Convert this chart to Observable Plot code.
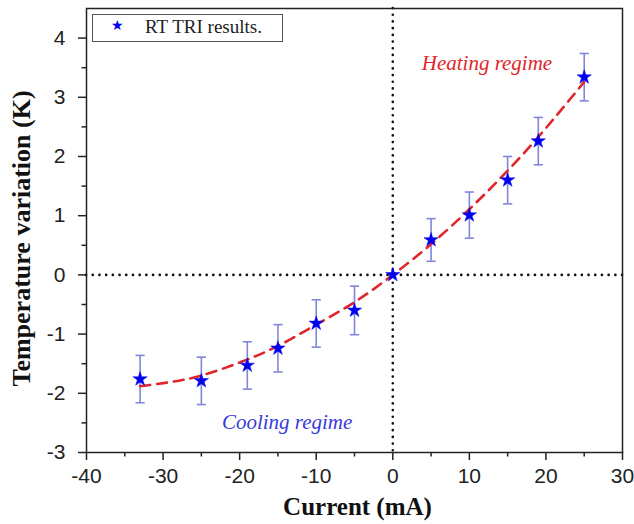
<!DOCTYPE html>
<html>
<head>
<meta charset="utf-8">
<script src="https://cdn.jsdelivr.net/npm/d3@7"></script>
<script src="https://cdn.jsdelivr.net/npm/@observablehq/plot@0.6"></script>
<style>
  html, body { margin: 0; padding: 0; background: #fff; }
  #wrap { position: relative; width: 634px; height: 524px; }
  #wrap svg { font-family: "Liberation Sans", Arial, sans-serif; }
  g[aria-label="x-axis tick label"] text, g[aria-label="y-axis tick label"] text {
    font-size: 21px; fill: #222;
  }
  #legend {
    position: absolute; left: 92px; top: 14px; width: 191px; height: 28px;
    border: 1.5px solid #555; background: #fff; box-sizing: border-box;
    font-family: "Liberation Serif", "Times New Roman", serif; font-size: 19px; color: #222;
  }
  #legend .star { position: absolute; left: 18px; top: 2px; color: #0000ee; font-size: 14px; font-family: "DejaVu Sans", sans-serif; }
  #legend .lbl { position: absolute; left: 52px; top: 1px; }
</style>
</head>
<body>
<div id="wrap"></div>
<script>
// Measured points (current in mA, temperature variation in K, error in K)
const currents = [-33, -25, -19, -15, -10, -5, 0, 5, 10, 15, 19, 25];
const tempVar  = [-1.76, -1.79, -1.53, -1.24, -0.82, -0.60, 0, 0.59, 1.01, 1.60, 2.26, 3.34];
const tempErr  = [0.40, 0.40, 0.40, 0.40, 0.40, 0.41, 0, 0.36, 0.39, 0.40, 0.40, 0.40];

// Fitted curve
const fitX = [-33, -29, -25, -20, -15, -10, -5, 0, 5, 10, 15, 20, 25];
const fitY = [-1.88, -1.81, -1.70, -1.48, -1.20, -0.84, -0.46, 0, 0.52, 1.11, 1.76, 2.48, 3.26];

// Ticks
const xTicks = [-40, -30, -20, -10, 0, 10, 20, 30];
const xMinor = [-35, -25, -15, -5, 5, 15, 25];
const yTicks = [-3, -2, -1, 0, 1, 2, 3, 4];
const yMinor = [-2.5, -1.5, -0.5, 0.5, 1.5, 2.5, 3.5];

// Titles
const xLabel = "Current (mA)";
const yLabel = "Temperature variation (K)";

// Annotations
const noteText = ["Heating regime", "Cooling regime"];
const noteX = [12.3, -13.8];
const noteY = [3.57, -2.49];
const noteColor = ["#e0262b", "#3a3ad8"];

const pts = currents.map((x, i) => ({x, y: tempVar[i], e: tempErr[i]}));
const bars = pts.filter(d => d.e > 0);
const fit = fitX.map((x, i) => ({x, y: fitY[i]}));
const notes = noteText.map((t, i) => ({t, x: noteX[i], y: noteY[i], c: noteColor[i]}));

const hline = { draw(ctx, size) { const w = Math.sqrt(size) * 0.37; ctx.moveTo(-w, 0); ctx.lineTo(w, 0); } };
const serif = "Liberation Serif, Times New Roman, serif";
const barColor = "#8286d8";

const chart = Plot.plot({
  width: 634,
  height: 524,
  marginLeft: 86,
  marginRight: 12,
  marginTop: 8,
  marginBottom: 72,
  x: { domain: [-40, 30] },
  y: { domain: [-3, 4.5] },
  marks: [
    Plot.ruleX([0], { stroke: "#111", strokeWidth: 2.6, strokeDasharray: "0.1,6.6", strokeLinecap: "round" }),
    Plot.ruleY([0], { stroke: "#111", strokeWidth: 2.6, strokeDasharray: "0.1,6.6", strokeLinecap: "round" }),
    Plot.ruleX(bars, { x: "x", y1: d => d.y - d.e, y2: d => d.y + d.e, stroke: barColor, strokeWidth: 1.6 }),
    Plot.dot(bars, { x: "x", y: d => d.y + d.e, symbol: hline, r: 7, stroke: barColor, strokeWidth: 1.6 }),
    Plot.dot(bars, { x: "x", y: d => d.y - d.e, symbol: hline, r: 7, stroke: barColor, strokeWidth: 1.6 }),
    Plot.line(fit, { x: "x", y: "y", curve: "natural", stroke: "#e0262b", strokeWidth: 2.6, strokeDasharray: "10,7" }),
    Plot.dot(pts, { x: "x", y: "y", symbol: "star", r: 4.5, fill: "#0000ee", stroke: "#0000ee", strokeWidth: 0.5 }),
    Plot.text(notes, { x: "x", y: "y", text: "t", fill: "c", fontSize: 21, fontStyle: "italic", fontFamily: serif }),
    Plot.frame({ stroke: "#222", strokeWidth: 1.5 }),
    Plot.axisX(xTicks, { tickSize: 8, tickPadding: 8, tickFormat: d => String(d), stroke: "#222", strokeWidth: 1.5, label: null }),
    Plot.axisX(xMinor, { tickSize: 4.5, text: null, stroke: "#222", strokeWidth: 1.5, label: null }),
    Plot.axisY(yTicks, { tickSize: 8, tickPadding: 13, tickFormat: d => String(d), stroke: "#222", strokeWidth: 1.5, label: null }),
    Plot.axisY(yMinor, { tickSize: 4.5, text: null, stroke: "#222", strokeWidth: 1.5, label: null }),
    Plot.text([xLabel], { frameAnchor: "bottom", textAnchor: "middle", dx: 3, dy: 62, fontSize: 25, fontWeight: "bold", fontFamily: serif, fill: "#111" }),
    Plot.text([yLabel], { frameAnchor: "left", textAnchor: "middle", rotate: -90, dx: -65, dy: 8, fontSize: 26, fontWeight: "bold", fontFamily: serif, fill: "#111" })
  ]
});

const wrap = document.getElementById("wrap");
wrap.appendChild(chart);
const lg = document.createElement("div");
lg.id = "legend";
lg.innerHTML = '<span class="star">★</span><span class="lbl">RT TRI results.</span>';
wrap.appendChild(lg);
</script>
</body>
</html>
